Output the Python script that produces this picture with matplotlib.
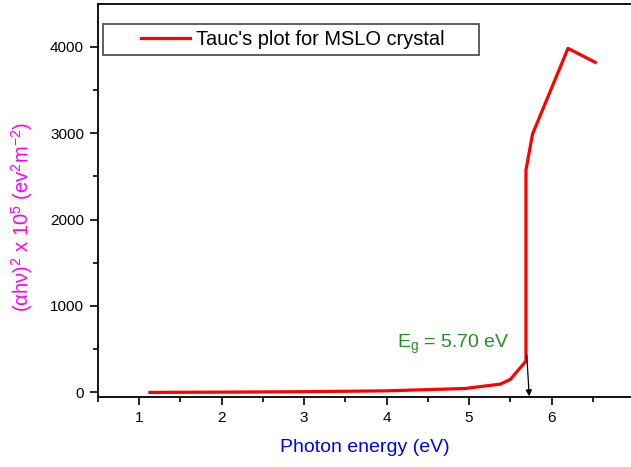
import matplotlib
matplotlib.use('Agg')
import matplotlib.pyplot as plt
from matplotlib.ticker import MultipleLocator
from matplotlib.patches import Rectangle

plt.rcParams['font.family'] = ['Liberation Sans', 'DejaVu Sans']
plt.rcParams['mathtext.fontset'] = 'custom'
plt.rcParams['mathtext.rm'] = 'Liberation Sans'
plt.rcParams['mathtext.it'] = 'Liberation Sans'

# Tauc's plot data
photon_energy = [1.13, 2.0, 3.0, 4.0, 4.95, 5.38, 5.50, 5.69, 5.69, 5.77, 6.20, 6.53]
tauc_values = [0, 3, 8, 18, 45, 96, 150, 362, 2573, 2989, 3981, 3819]

band_gap = 5.70
legend_label = "Tauc's plot for MSLO crystal"

fig = plt.figure(figsize=(6.31, 4.67), dpi=100)
ax = fig.add_axes([0.1553, 0.1505, 0.8494, 0.8409])

ax.plot(photon_energy, tauc_values, color='#ff0000', lw=2.3, label=legend_label)

ax.set_xlim(0.5, 7.0)
ax.set_ylim(-50, 4494)

ax.xaxis.set_major_locator(MultipleLocator(1))
ax.xaxis.set_minor_locator(MultipleLocator(0.5))
ax.yaxis.set_major_locator(MultipleLocator(1000))
ax.yaxis.set_minor_locator(MultipleLocator(500))
ax.tick_params(which='major', direction='out', length=6, width=1.2, labelsize=11, pad=4)
ax.tick_params(which='minor', direction='out', length=3.5, width=1.2)

ax.spines['right'].set_visible(False)
for s in ['left', 'bottom', 'top']:
    ax.spines[s].set_linewidth(1.3)

ax.set_xlabel('Photon energy (eV)', color='#0000ff', fontsize=14)
ax.xaxis.set_label_coords(0.498, -0.108)
ax.set_ylabel(r'($\alpha$h$\nu$)$^2$ x 10$^5$ (ev$^2$m$^{-2}$)', color='#ff00ff',
              fontsize=14.5)
ax.yaxis.set_label_coords(-0.118, 0.458)

ax.annotate('', xy=(5.73, -45), xytext=(5.70, 430),
            arrowprops=dict(arrowstyle='-|>', color='black', lw=0.9,
                            mutation_scale=9, shrinkA=0, shrinkB=0))
ax.text(4.13, 510, r'E$_\mathrm{g}$ = %.2f eV' % band_gap, color='#2a8c2a', fontsize=14)

# legend with wide frame like the original
ax.legend(loc='center left', bbox_to_anchor=(0.08, 0.9095), fontsize=14.4,
          frameon=False, handlelength=2.45, borderpad=0, borderaxespad=0,
          handletextpad=0.3)
ax.add_patch(Rectangle((0.0093, 0.870), 0.702, 0.079, transform=ax.transAxes,
                       fill=False, edgecolor='#444444', lw=1.2, zorder=5))

fig.savefig('out.png', dpi=100)
